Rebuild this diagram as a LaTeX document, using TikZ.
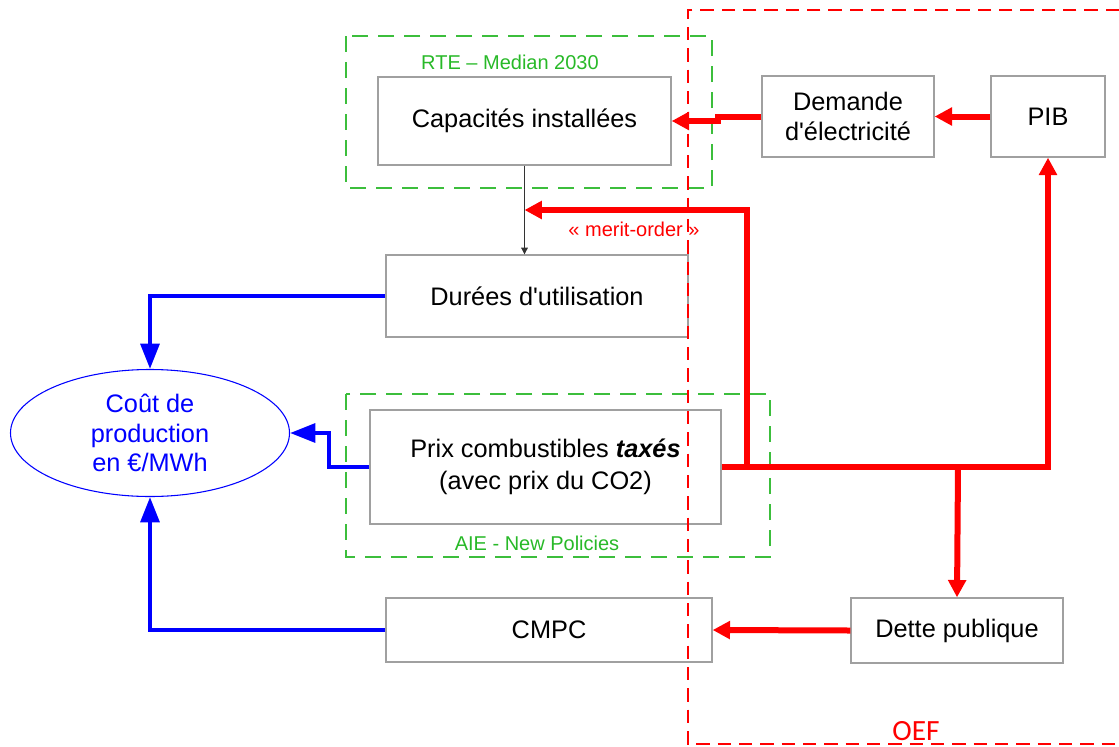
\documentclass[tikz,border=0pt]{standalone}
\usepackage{fontspec}
\setmainfont{Liberation Sans}
\newfontfamily\calib{Carlito}
\usetikzlibrary{arrows.meta,calc,shapes.geometric}
\definecolor{gbox}{RGB}{60,190,60}
\definecolor{gtext}{RGB}{40,185,40}
\definecolor{bord}{RGB}{160,160,160}
\tikzset{
  box/.style={draw=bord,line width=1pt,fill=white,inner sep=0pt,align=center,font=\fontsize{19}{22}\selectfont},
  grp/.style={draw=gbox,line width=0.8pt,dash pattern=on 12pt off 7.5pt},
  oef/.style={draw=red,line width=0.8pt,dash pattern=on 10pt off 6pt},
  redarr/.style={draw=red,line width=4.5pt,-{Triangle[length=13pt,width=13pt]}},
  bluearr/.style={draw=blue,line width=3.2pt,-{Triangle[length=19pt,width=14pt]}},
  thinarr/.style={draw=black!80,line width=0.6pt,-{Triangle[length=5pt,width=5pt]}},
  glabel/.style={text=gtext,font=\fontsize{15}{18}\selectfont},
}
\begin{document}
\begin{tikzpicture}[x=0.75pt,y=-0.75pt]
\useasboundingbox (0,0) rectangle (1119,746);
% group boxes
\draw[grp] (346,36) rectangle (712,188);
\node[glabel] (rtelab) at (510,62) {RTE – Median 2030};
\draw[grp] (346,394) rectangle (770,557);
\node[glabel] (aielab) at (537,543) {AIE - New Policies};
% nodes
\node[box,minimum width=219.75pt,minimum height=66pt] (cap) at (524.5,121) {Capacités installées};
\node[box,minimum width=129pt,minimum height=60.75pt] (dem) at (848,116.5) {Demande\\d\textquotesingle électricité};
\node[box,minimum width=85.5pt,minimum height=60.75pt] (pib) at (1048,116.5) {PIB};
\node[box,minimum width=226.5pt,minimum height=61.5pt] (dur) at (537,296) {Durées d\textquotesingle utilisation};
\node[box,minimum width=263.25pt,minimum height=85.5pt,font=\fontsize{19}{24}\selectfont] (prix) at (545.5,467) {Prix combustibles \textbf{\textit{taxés}}\\(avec prix du CO2)};
\node[box,minimum width=244.5pt,minimum height=48pt] (cmpc) at (549,630) {CMPC};
\node[box,minimum width=159pt,minimum height=48.75pt] (dette) at (957,630.5) {Dette publique};
\node[draw=blue,line width=0.8pt,ellipse,minimum width=209.25pt,minimum height=95.25pt,inner sep=0pt,text=blue,align=center,font=\fontsize{19}{22}\selectfont] (cout) at (150,433) {Coût de\\production\\en €/MWh};
% OEF region
\draw[oef] (1119,10) -- (688,10) -- (688,744) -- (1119,744);
\node[text=red,font=\calib\fontsize{22}{24}\selectfont] (oeflab) at (916,731) {OEF};
% thin arrow
\draw[thinarr] (cap.south) -- (cap.south |- dur.north);
% red connectors
\coordinate (mo) at (cap.south |- 0,210);
\coordinate (j1) at (747,467);
\coordinate (j2) at (958,467);
\draw[redarr] (pib.west) -- (dem.east);
\draw[redarr] (dem.west) -- (718,116.5) -- (718,121) -- (cap.east);
\draw[redarr] (prix.east) -| (pib.south);
\draw[redarr] (j1) -- (j1 |- mo) -- (mo);
\draw[redarr] (j2) -- (dette.north);
\draw[redarr] (dette.west) -- (cmpc.east);
\node[text=red,font=\fontsize{15}{18}\selectfont] (molab) at (634,229) {« merit-order »};
% blue connectors
\draw[bluearr] (dur.west) -| (cout.north);
\draw[bluearr] (prix.west) -- ++(-40,0) |- (cout.east);
\draw[bluearr] (cmpc.west) -| (cout.south);
\end{tikzpicture}
\end{document}
